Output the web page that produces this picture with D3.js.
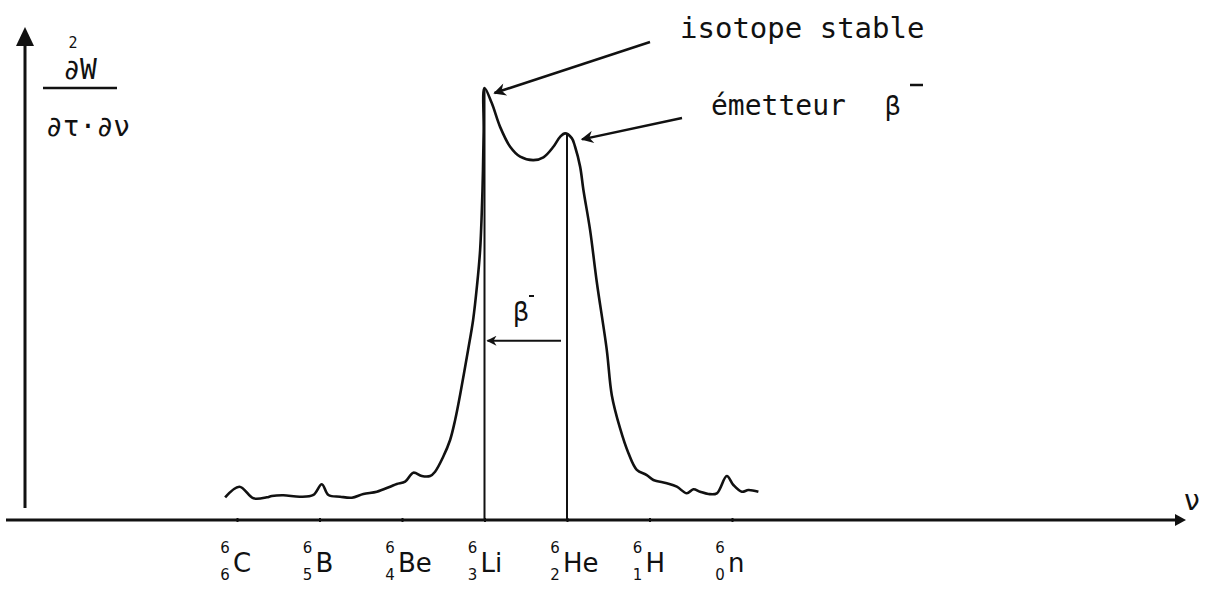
<!DOCTYPE html>
<html>
<head>
<meta charset="utf-8">
<script src="https://cdn.jsdelivr.net/npm/d3@7"></script>
<style>
	body { margin: 0; background: #fff; }
	svg { display: block; }
	text { fill: #111; }
</style>
</head>
<body>
<div id="chart"></div>
<script>
// neutron number N of the A = 6 isobars (position along nu)
let isotopeN = [0, 1, 2, 3, 4, 5, 6];
let isotopeZ = ['6', '5', '4', '3', '2', '1', '0'];
let isotopeSymbol = ['C', 'B', 'Be', 'Li', 'He', 'H', 'n'];
let massNumber = '6';

let nu = [
	-0.144, 0.029, 0.199, 0.361, 0.422, 0.562, 0.765, 0.926, 1.028, 1.108,
	1.25, 1.392, 1.532, 1.695, 1.856, 1.937, 2.038, 2.138, 2.24, 2.341,
	2.401, 2.498, 2.583, 2.644, 2.704, 2.801, 2.862, 2.91, 2.947, 2.975,
	2.99, 3.0, 3.088, 3.189, 3.311, 3.432, 3.593, 3.714, 3.835, 3.916,
	3.977, 4.058, 4.098, 4.159, 4.199, 4.28, 4.361, 4.482, 4.543, 4.642,
	4.744, 4.846, 4.967, 5.047, 5.21, 5.331, 5.452, 5.532, 5.613, 5.714,
	5.816, 5.937, 6.017, 6.119, 6.199, 6.32
];
let intensity = [
	5.25, 7.71, 5.02, 5.25, 5.56, 5.72, 5.39, 5.79, 8.26, 5.79,
	5.39, 5.16, 6.02, 6.55, 7.71, 8.33, 8.87, 10.95, 10.19, 10.19,
	11.18, 14.58, 18.52, 23.15, 28.94, 39.35, 46.3, 54.4, 62.5, 76,
	90, 100, 96.5, 91.0, 86.4, 84.1, 83.3, 83.96, 86.4, 88.7,
	89.5, 88.4, 86.4, 81.8, 76.4, 67.1, 55.1, 39.4, 28.9, 21.3,
	15.5, 11.6, 10.4, 9.26, 8.5, 7.71, 6.18, 7.11, 6.55, 6.02,
	6.18, 10.19, 8.1, 6.55, 6.94, 6.55
];

let width = 1206,
	height = 592;

let ink = '#111';
let mono = '"DejaVu Sans Mono", monospace';

let x = d3.scaleLinear().domain([0, 6]).range([237, 732]);
let y = d3.scaleLinear().domain([0, 100]).range([520, 88]);

let svg = d3.select('#chart').append('svg').attr('width', width).attr('height', height);

let defs = svg.append('defs');
defs.append('marker')
	.attr('id', 'head')
	.attr('viewBox', '0 0 10 10')
	.attr('refX', 9)
	.attr('refY', 5)
	.attr('markerWidth', 6)
	.attr('markerHeight', 5)
	.attr('orient', 'auto')
	.append('path')
	.attr('d', 'M0,0L10,5L0,10L3,5Z')
	.attr('fill', ink);

// x axis (nu) with arrow
let x0 = 6,
	x1 = 1186;
svg.append('line')
	.attr('x1', x0).attr('x2', x1 - 8)
	.attr('y1', y(0)).attr('y2', y(0))
	.attr('stroke', ink).attr('stroke-width', 2.8);
svg.append('path')
	.attr('d', `M${x1},${y(0)}L${x1 - 11},${y(0) - 6}L${x1 - 11},${y(0) + 6}Z`)
	.attr('fill', ink);
svg.append('text')
	.attr('x', 1192).attr('y', 510)
	.attr('text-anchor', 'middle')
	.style('font-family', mono).style('font-size', '28px')
	.text('ν');

// ticks and nuclide labels
let xAxis = d3.axisBottom(x).tickValues(isotopeN).tickSize(4).tickFormat('');
let gx = svg.append('g').attr('transform', `translate(0,${y(0) - 2})`).call(xAxis);
gx.select('.domain').remove();
gx.selectAll('.tick line').attr('stroke', ink).attr('stroke-width', 2);

let labels = svg.append('g').style('font-family', '"DejaVu Sans", sans-serif');
isotopeN.forEach(function (n, i) {
	let cx = x(n);
	labels.append('text')
		.attr('x', cx - 12).attr('y', 553)
		.attr('text-anchor', 'middle')
		.style('font-size', '15px')
		.text(massNumber);
	labels.append('text')
		.attr('x', cx - 12).attr('y', 580)
		.attr('text-anchor', 'middle')
		.style('font-size', '15px')
		.text(isotopeZ[i]);
	labels.append('text')
		.attr('x', cx - 4).attr('y', 572)
		.style('font-size', '26px')
		.text(isotopeSymbol[i]);
});

// y axis with arrow
let yx = 25;
svg.append('line')
	.attr('x1', yx).attr('x2', yx)
	.attr('y1', 508).attr('y2', 40)
	.attr('stroke', ink).attr('stroke-width', 3);
svg.append('path')
	.attr('d', `M${yx},27L${yx - 9},46L${yx + 9},46Z`)
	.attr('fill', ink);

let ylab = svg.append('g').style('font-family', mono);
ylab.append('text').attr('x', 80).attr('y', 79).attr('text-anchor', 'middle')
	.style('font-size', '28px').text('∂W');
ylab.append('text').attr('x', 73).attr('y', 48).attr('text-anchor', 'middle')
	.style('font-size', '15px').text('2');
ylab.append('line').attr('x1', 43).attr('x2', 117).attr('y1', 88).attr('y2', 88)
	.attr('stroke', ink).attr('stroke-width', 2.5);
ylab.append('text').attr('x', 88).attr('y', 136).attr('text-anchor', 'middle')
	.style('font-size', '28px').text('∂τ·∂ν');

// vertical markers at 6Li and 6He
let iLi = nu.indexOf(3.0);
svg.append('line')
	.attr('x1', x(3)).attr('x2', x(3))
	.attr('y1', y(0)).attr('y2', y(intensity[iLi]))
	.attr('stroke', ink).attr('stroke-width', 2);
let iHe = nu.indexOf(3.977);
svg.append('line')
	.attr('x1', x(4)).attr('x2', x(4))
	.attr('y1', y(0)).attr('y2', y(intensity[iHe]))
	.attr('stroke', ink).attr('stroke-width', 2);

// the curve
let points = nu.map((d, i) => [d, intensity[i]]);
let line = d3.line()
	.x((d) => x(d[0]))
	.y((d) => y(d[1]))
	.curve(d3.curveCatmullRom.alpha(0.5));
svg.append('path')
	.datum(points)
	.attr('d', line)
	.attr('fill', 'none')
	.attr('stroke', ink)
	.attr('stroke-width', 2.6)
	.attr('stroke-linejoin', 'round');

// beta- decay arrow He -> Li
svg.append('line')
	.attr('x1', x(4) - 6).attr('x2', x(3) + 3)
	.attr('y1', y(41.5)).attr('y2', y(41.5))
	.attr('stroke', ink).attr('stroke-width', 2)
	.attr('marker-end', 'url(#head)');
svg.append('text')
	.attr('x', 521).attr('y', 321)
	.attr('text-anchor', 'middle')
	.style('font-family', mono).style('font-size', '26px')
	.text('β');
svg.append('line')
	.attr('x1', 529).attr('x2', 534).attr('y1', 296).attr('y2', 296)
	.attr('stroke', ink).attr('stroke-width', 2);

// annotations
svg.append('text')
	.attr('x', 680).attr('y', 38)
	.style('font-family', mono).style('font-size', '29px')
	.text('isotope stable');
svg.append('line')
	.attr('x1', 650).attr('y1', 42)
	.attr('x2', x(3) + 10).attr('y2', y(intensity[iLi]) + 5)
	.attr('stroke', ink).attr('stroke-width', 2.5)
	.attr('marker-end', 'url(#head)');

svg.append('text')
	.attr('x', 711).attr('y', 115)
	.style('font-family', mono).style('font-size', '28px')
	.text('émetteur');
svg.append('text')
	.attr('x', 885).attr('y', 115)
	.style('font-family', mono).style('font-size', '26px')
	.text('β');
svg.append('line')
	.attr('x1', 910).attr('x2', 923).attr('y1', 85).attr('y2', 85)
	.attr('stroke', ink).attr('stroke-width', 2.5);
svg.append('line')
	.attr('x1', 682).attr('y1', 118)
	.attr('x2', x(4) + 15).attr('y2', y(intensity[iHe]) + 6)
	.attr('stroke', ink).attr('stroke-width', 2.5)
	.attr('marker-end', 'url(#head)');
</script>
</body>
</html>
